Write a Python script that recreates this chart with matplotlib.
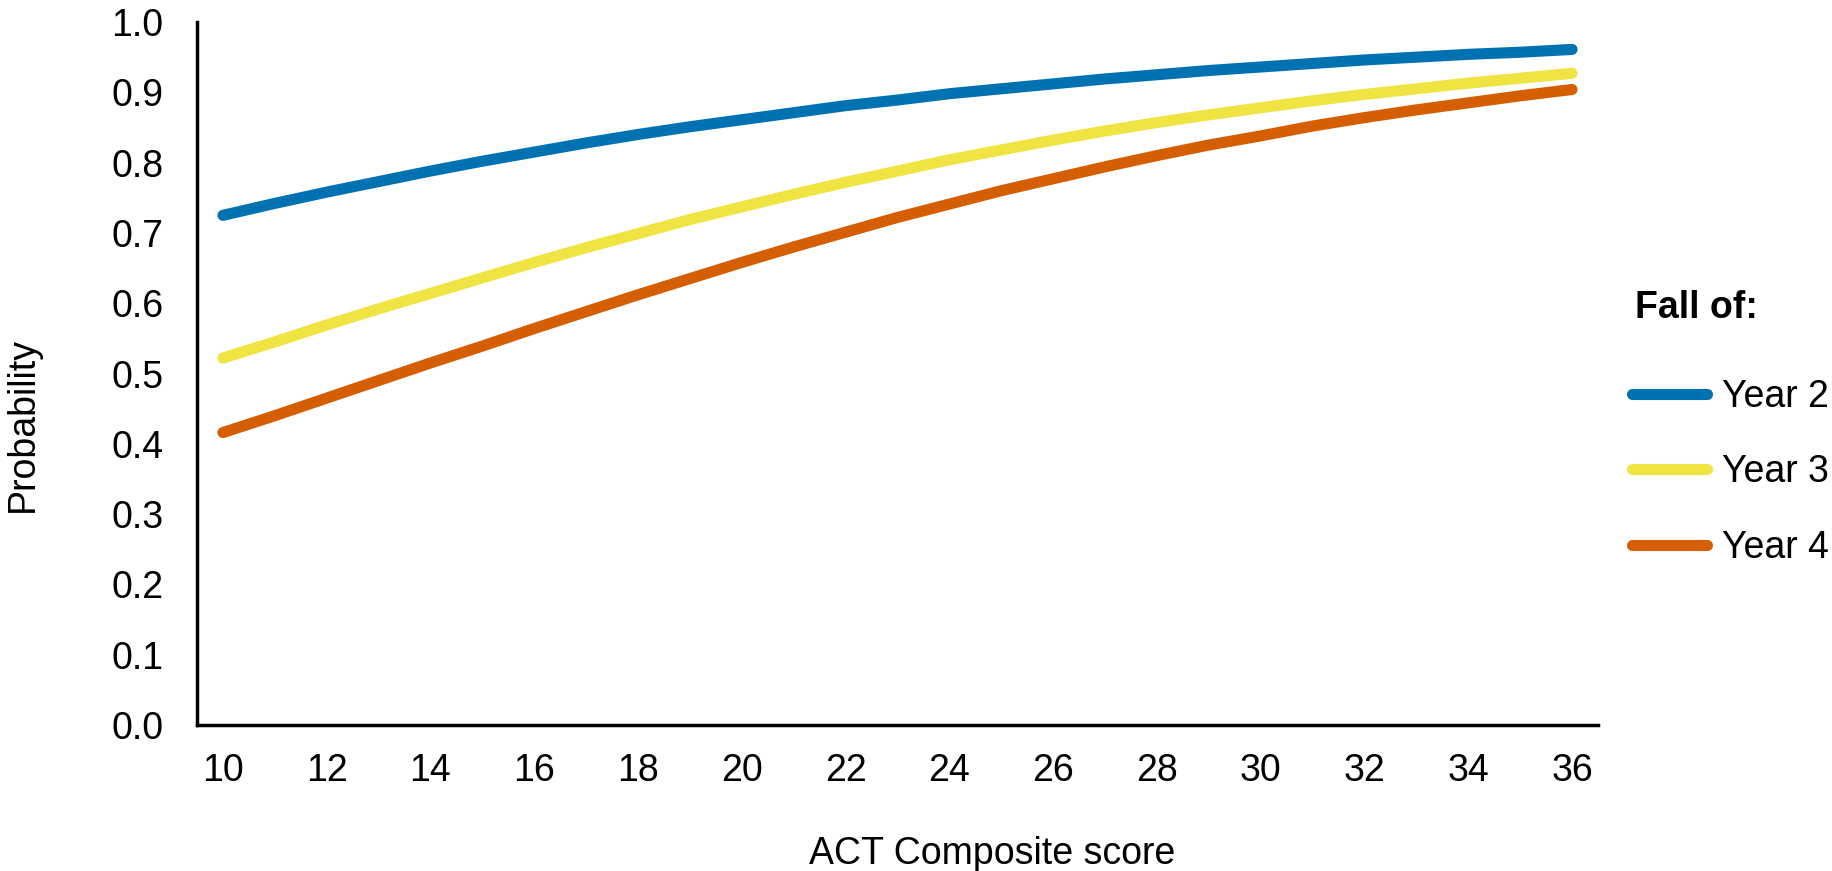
import matplotlib
matplotlib.use("Agg")
import matplotlib.pyplot as plt

plt.rcParams['font.family'] = ['Liberation Sans', 'DejaVu Sans']
FS = 27

# ACT composite score (x) and predicted probability per year
act_scores = list(range(10, 37))
x_ticks = [10, 12, 14, 16, 18, 20, 22, 24, 26, 28, 30, 32, 34, 36]
y_ticks = [0.0, 0.1, 0.2, 0.3, 0.4, 0.5, 0.6, 0.7, 0.8, 0.9, 1.0]

year2 = [0.725, 0.742, 0.758, 0.773, 0.788, 0.802, 0.815, 0.828, 0.840,
         0.851, 0.861, 0.871, 0.881, 0.889, 0.898, 0.905, 0.912, 0.919,
         0.925, 0.931, 0.936, 0.941, 0.946, 0.950, 0.954, 0.957, 0.961]
year3 = [0.522, 0.545, 0.569, 0.592, 0.614, 0.636, 0.658, 0.679, 0.699,
         0.719, 0.737, 0.755, 0.772, 0.788, 0.804, 0.818, 0.832, 0.845,
         0.857, 0.868, 0.878, 0.888, 0.897, 0.905, 0.913, 0.920, 0.927]
year4 = [0.416, 0.440, 0.465, 0.490, 0.515, 0.539, 0.564, 0.588, 0.612,
         0.635, 0.658, 0.680, 0.701, 0.722, 0.741, 0.760, 0.777, 0.794,
         0.810, 0.825, 0.838, 0.852, 0.864, 0.875, 0.885, 0.895, 0.904]

series = [("Year 2", year2, "#0072B2"),
          ("Year 3", year3, "#F0E442"),
          ("Year 4", year4, "#D55E00")]

W, H = 1832, 871
fig = plt.figure(figsize=(W / 100, H / 100), dpi=100)
ax = fig.add_axes([197 / W, 1 - 725 / H, (1598 - 197) / W, (725 - 22) / H])

for label, vals, color in series:
    ax.plot(act_scores, vals, color=color, lw=8, solid_capstyle='round', label=label)

ax.set_xlim(9.5, 36.5)
ax.set_ylim(0, 1.0)
ax.set_xticks(x_ticks)
ax.set_yticks(y_ticks)
ax.set_yticklabels([f"{v:.1f}" for v in y_ticks])
ax.tick_params(axis='both', length=0, labelsize=FS)
ax.tick_params(axis='x', pad=20)
ax.tick_params(axis='y', pad=24)

for side in ('top', 'right'):
    ax.spines[side].set_visible(False)
for side in ('left', 'bottom'):
    ax.spines[side].set_linewidth(2.5)
    ax.spines[side].set_color('black')

fig.text(992 / W, 1 - 864 / H, "ACT Composite score", fontsize=FS,
         ha='center', va='baseline')
fig.text(33 / W, 1 - 425 / H, "Probability", fontsize=FS, rotation=90,
         rotation_mode='anchor', ha='center', va='baseline')

# legend title drawn on its own, entries below it
fig.text(1635 / W, 1 - 318 / H, "Fall of:", fontsize=FS, fontweight='bold',
         ha='left', va='baseline')
fig.legend(loc='upper left', bbox_to_anchor=(1632 / W, 1 - 379 / H),
           frameon=False, fontsize=FS, handlelength=2.0, handletextpad=0.4,
           labelspacing=1.05, borderpad=0, borderaxespad=0)

fig.savefig("out.png", dpi=100)
